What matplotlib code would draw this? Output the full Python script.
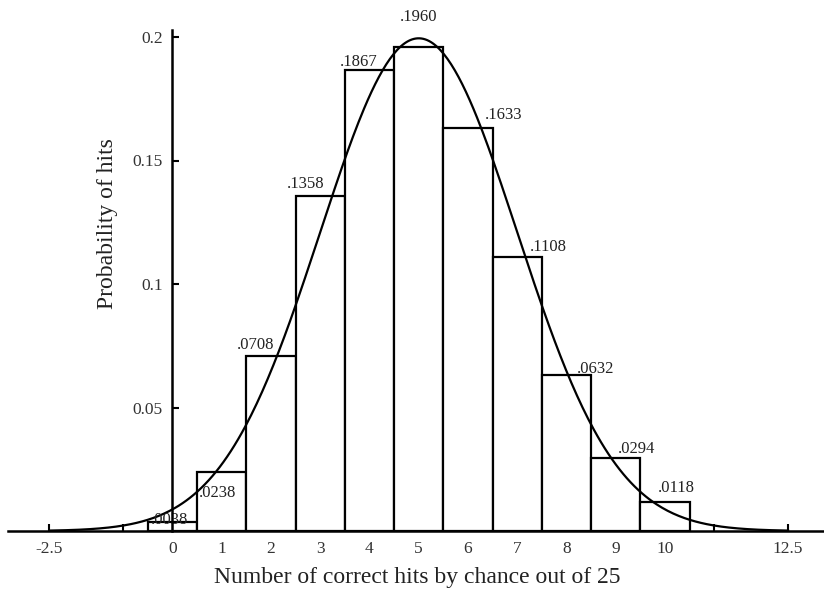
import numpy as np
import matplotlib
matplotlib.use("Agg")
import matplotlib.pyplot as plt

# ---- data ----
hits = [0, 1, 2, 3, 4, 5, 6, 7, 8, 9, 10]
probs = [0.0038, 0.0238, 0.0708, 0.1358, 0.1867, 0.1960, 0.1633, 0.1108, 0.0632, 0.0294, 0.0118]
prob_labels = [".0038", ".0238", ".0708", ".1358", ".1867", ".1960", ".1633", ".1108", ".0632", ".0294", ".0118"]
xtick_vals = [-2.5, -1, 0, 1, 2, 3, 4, 5, 6, 7, 8, 9, 10, 11, 12.5]
xtick_text = ["-2.5", "", "0", "1", "2", "3", "4", "5", "6", "7", "8", "9", "10", "", "12.5"]
ytick_vals = [0.05, 0.1, 0.15, 0.2]
ytick_text = ["0.05", "0.1", "0.15", "0.2"]
mu, sigma = 5.0, 2.0  # normal approximation (np, sqrt(np(1-p)))

# label placement (x position, y centre) in data units
lab_x = [-0.44, 0.54, 1.31, 2.33, 3.40, 5.0, 6.35, 7.26, 8.21, 9.05, 9.86]
lab_y = [0.0045, 0.0155, 0.0755, 0.1405, 0.1900, 0.2080, 0.1685, 0.1150, 0.0655, 0.0330, 0.0175]

plt.rcParams['font.family'] = ['Liberation Serif', 'DejaVu Serif']

fig = plt.figure(figsize=(8.24, 5.93), dpi=100)
ax = fig.add_axes([8/824, 62/593, 816/824, 521/593])
ax.set_xlim(-3.34, 13.23)
ax.set_ylim(0, 521 / 2470)

ax.bar(hits, probs, width=1.0, color='white', edgecolor='black', linewidth=1.6, zorder=2)

xs = np.linspace(-2.5, 12.5, 400)
ys = np.exp(-0.5 * ((xs - mu) / sigma) ** 2) / (sigma * np.sqrt(2 * np.pi))
ax.plot(xs, ys, color='black', linewidth=1.6, zorder=3)

for i, t in enumerate(prob_labels):
    ha = 'center' if t == ".1960" else 'left'
    ax.text(lab_x[i], lab_y[i], t, ha=ha, va='center', fontsize=12, color='#222222',
            zorder=4, clip_on=False)

for s in ['top', 'right']:
    ax.spines[s].set_visible(False)
ax.spines['left'].set_position(('data', 0))
ax.spines['left'].set_bounds(0, 0.2028)
ax.spines['left'].set_linewidth(1.8)
ax.spines['bottom'].set_linewidth(1.8)
ax.spines['left'].set_zorder(5)

ax.set_xticks(xtick_vals)
ax.set_xticklabels(xtick_text)
ax.set_yticks(ytick_vals)
ax.set_yticklabels(ytick_text)
ax.tick_params(axis='x', direction='in', length=5, width=1.5, pad=7, labelsize=12.5, labelcolor='#333333')
ax.tick_params(axis='y', direction='in', length=5, width=1.5, pad=7, labelsize=12.5, labelcolor='#333333')

fig.text(417/824, 1 - 578/593, "Number of correct hits by chance out of 25", ha='center', va='center',
         fontsize=17, color='#222222')
fig.text(108/824, 1 - 224/593, "Probability of hits", ha='center', va='center', rotation=90,
         fontsize=17, color='#222222')

fig.savefig("out.png", dpi=100)
